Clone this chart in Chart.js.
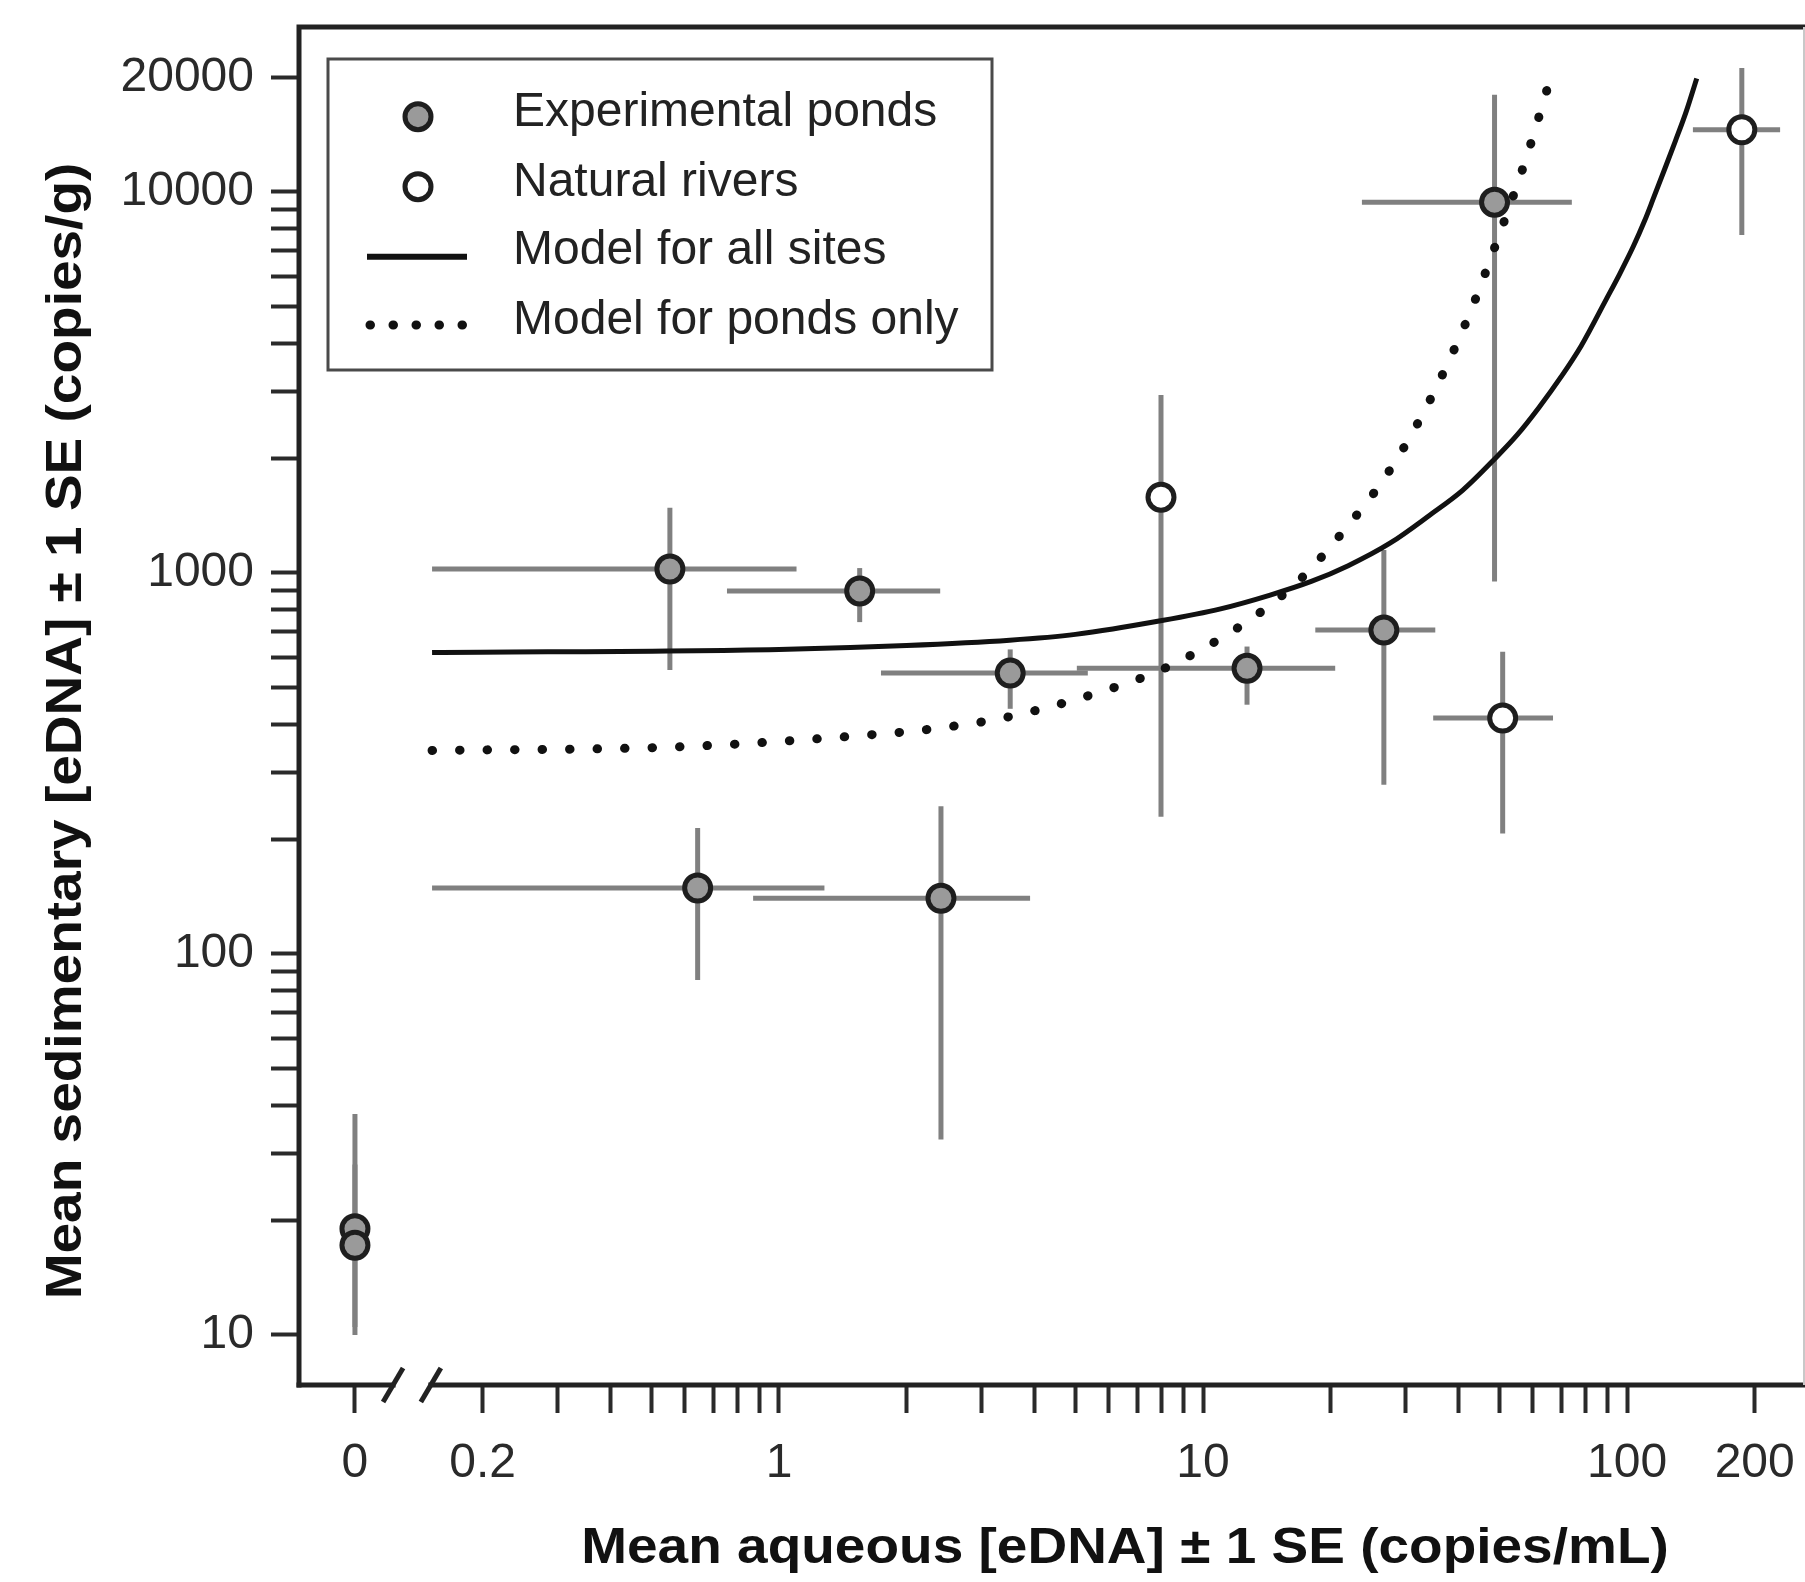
<!DOCTYPE html>
<html>
<head>
<meta charset="utf-8">
<script src="https://cdn.jsdelivr.net/npm/chart.js@4.4.0/dist/chart.umd.min.js"></script>
<style>
html,body{margin:0;padding:0;background:#fff;}
#wrap{width:1805px;height:1582px;position:relative;}
</style>
</head>
<body>
<div id="wrap"><canvas id="c" width="1805" height="1582"></canvas></div>
<script>
// ---------- data ----------
// "0" on the aqueous axis is drawn at the broken-axis position 0.1
const ZERO_POS = 0.1;

// Experimental ponds
const pondX     = [0,    0,    0.553, 1.55, 0.643, 2.41, 3.51, 12.7, 26.7, 48.7];
const pondY     = [19.0, 17.2, 1024,  897,  149,   140,  546,  562,  708,  9400];
const pondXLow  = [0,    0,    0.152, 0.754,0.152, 0.869,1.74, 5.04, 18.4, 23.7];
const pondXHigh = [0,    0,    1.10,  2.40, 1.28,  3.91, 5.35, 20.5, 35.3, 74.1];
const pondYLow  = [10,   10.5, 556,   743,  85.5,  32.6, 440,  451,  278,  950];
const pondYHigh = [38,   28,   1483,  1030, 214,   244,  630,  641,  1148, 17990];

// Natural rivers
const riverX     = [7.96, 50.9, 186.5];
const riverY     = [1581, 416,  14560];
const riverXLow  = [7.96, 34.9, 143];
const riverXHigh = [7.96, 66.9, 229.6];
const riverYLow  = [229,  207,  7710];
const riverYHigh = [2930, 621,  21140];

// Model for all sites
const allSitesX = [0.152, 1,   2,   3.5, 5,   8,   11,  14.4, 18,  22,   27.6, 34.3, 41,   48.9, 55,   62,   70,   78,   89.5, 96,   103.5, 110,  115.3, 122,   130,   138,   146];
const allSitesY = [618,   630, 645, 666, 690, 750, 805, 875,  950, 1045, 1197, 1420, 1650, 2000, 2300, 2720, 3280, 3950, 5250, 6080, 7200,  8400, 9600,  11300, 13600, 16300, 19860];

// Model for ponds only
const pondsOnlyX = [0.152, 0.59, 1.64, 2.27, 3.51, 6.26, 8.06, 10.8, 13.9, 17.2, 22.2, 26.6, 31.3, 35.9, 42.6, 49.8, 58.0,  65.8];
const pondsOnlyY = [342,   350,  376,  389,  420,  503,  560,  665,  800,  977,  1349, 1754, 2350, 3150, 4810, 7640, 12390, 19690];

// Axis ticks and labels
const xTickValues = [0.1, 0.2, 0.3, 0.4, 0.5, 0.6, 0.7, 0.8, 0.9, 1, 2, 3, 4, 5, 6, 7, 8, 9, 10, 20, 30, 40, 50, 60, 70, 80, 90, 100, 200];
const xLabelAt    = [0.1, 0.2, 1, 10, 100, 200];
const xLabels     = ['0', '0.2', '1', '10', '100', '200'];
const yTickValues = [10, 20, 30, 40, 50, 60, 70, 80, 90, 100, 200, 300, 400, 500, 600, 700, 800, 900,
                     1000, 2000, 3000, 4000, 5000, 6000, 7000, 8000, 9000, 10000, 20000];
const yLabelAt    = [10, 100, 1000, 10000, 20000];
const yLabels     = ['10', '100', '1000', '10000', '20000'];
const breakMarks  = [0.123, 0.151];

const seriesNames = ['Experimental ponds', 'Natural rivers', 'Model for all sites', 'Model for ponds only'];
const xTitle = 'Mean aqueous [eDNA] \u00B1 1 SE (copies/mL)';
const yTitle = 'Mean sedimentary [eDNA] \u00B1 1 SE (copies/g)';

// ---------- styling ----------
const FONT = '"Liberation Sans", Arial, Helvetica, sans-serif';
const INK = '#222';
const ERR = '#808080';

function mapX(x) { return x === 0 ? ZERO_POS : x; }
function labelFor(v, at, labels) {
  for (let i = 0; i < at.length; i++) {
    if (Math.abs(at[i] - v) < 1e-9 * Math.max(1, at[i])) return labels[i];
  }
  return '';
}

const errorSets = [
  {x: pondX,  y: pondY,  xl: pondXLow,  xh: pondXHigh,  yl: pondYLow,  yh: pondYHigh},
  {x: riverX, y: riverY, xl: riverXLow, xh: riverXHigh, yl: riverYLow, yh: riverYHigh}
];

const errorBarsPlugin = {
  id: 'errorBars',
  beforeDatasetsDraw(chart) {
    const ctx = chart.ctx, xs = chart.scales.x, ys = chart.scales.y;
    ctx.save();
    ctx.strokeStyle = ERR;
    ctx.lineWidth = 5;
    ctx.lineCap = 'butt';
    errorSets.forEach(s => {
      for (let i = 0; i < s.x.length; i++) {
        const px = xs.getPixelForValue(mapX(s.x[i]));
        const py = ys.getPixelForValue(s.y[i]);
        if (s.xl[i] !== s.xh[i]) {
          ctx.beginPath();
          ctx.moveTo(xs.getPixelForValue(mapX(s.xl[i])), py);
          ctx.lineTo(xs.getPixelForValue(mapX(s.xh[i])), py);
          ctx.stroke();
        }
        if (s.yl[i] !== s.yh[i]) {
          ctx.beginPath();
          ctx.moveTo(px, ys.getPixelForValue(s.yl[i]));
          ctx.lineTo(px, ys.getPixelForValue(s.yh[i]));
          ctx.stroke();
        }
      }
    });
    ctx.restore();
  }
};

const framePlugin = {
  id: 'frame',
  afterDraw(chart) {
    const ctx = chart.ctx, a = chart.chartArea, xs = chart.scales.x;
    ctx.save();
    ctx.lineCap = 'square';
    ctx.strokeStyle = INK;
    ctx.lineWidth = 5;
    // top + left
    ctx.beginPath();
    ctx.moveTo(a.right + 2, a.top);
    ctx.lineTo(a.left, a.top);
    ctx.lineTo(a.left, a.bottom);
    ctx.stroke();
    // bottom with break
    const b1 = xs.getPixelForValue(breakMarks[0]);
    const b2 = xs.getPixelForValue(breakMarks[1]);
    ctx.beginPath();
    ctx.moveTo(a.left, a.bottom);
    ctx.lineTo(b1, a.bottom);
    ctx.moveTo(b2, a.bottom);
    ctx.lineTo(a.right + 2, a.bottom);
    ctx.stroke();
    // slashes
    ctx.lineCap = 'butt';
    ctx.lineWidth = 5;
    [b1, b2].forEach(bx => {
      ctx.beginPath();
      ctx.moveTo(bx - 10, a.bottom + 17);
      ctx.lineTo(bx + 10, a.bottom - 17);
      ctx.stroke();
    });
    // right edge (cropped frame)
    ctx.strokeStyle = '#c8c8c8';
    ctx.lineWidth = 2;
    ctx.beginPath();
    ctx.moveTo(a.right + 1, a.top);
    ctx.lineTo(a.right + 1, a.bottom);
    ctx.stroke();

    // axis titles
    ctx.fillStyle = '#111';
    ctx.font = 'bold 50px ' + FONT;
    ctx.textAlign = 'center';
    ctx.textBaseline = 'alphabetic';
    ctx.save();
    ctx.translate(1125, 1563);
    ctx.scale(1.1, 1);
    ctx.fillText(xTitle, 0, 0);
    ctx.restore();
    ctx.save();
    ctx.translate(81, 731);
    ctx.rotate(-Math.PI / 2);
    ctx.scale(1.1, 1);
    ctx.fillText(yTitle, 0, 0);
    ctx.restore();

    // legend
    const L = {x: 328, y: 59, w: 664, h: 311};
    ctx.strokeStyle = '#4a4a4a';
    ctx.lineWidth = 3;
    ctx.strokeRect(L.x, L.y, L.w, L.h);
    const ds = chart.data.datasets;
    const rows = [112.5, 182.5, 251, 321];
    const symY = [116.7, 186.7, 256.7, 325];
    ctx.font = '48px ' + FONT;
    ctx.textAlign = 'left';
    ctx.textBaseline = 'middle';
    ds.forEach((d, i) => {
      ctx.fillStyle = INK;
      ctx.fillText(d.label, 513, rows[i]);
      if (!d.showLine) {
        ctx.beginPath();
        ctx.arc(418, symY[i], 13, 0, Math.PI * 2);
        ctx.fillStyle = d.pointBackgroundColor;
        ctx.fill();
        ctx.lineWidth = d.pointBorderWidth;
        ctx.strokeStyle = d.pointBorderColor;
        ctx.stroke();
      } else {
        ctx.beginPath();
        ctx.strokeStyle = d.borderColor;
        if (d.borderDash && d.borderDash.length) {
          ctx.lineWidth = 9;
          ctx.lineCap = 'round';
          ctx.setLineDash([0.5, 22.5]);
          ctx.moveTo(370, symY[i]);
          ctx.lineTo(463, symY[i]);
        } else {
          ctx.lineWidth = 6;
          ctx.lineCap = 'butt';
          ctx.setLineDash([]);
          ctx.moveTo(367, symY[i]);
          ctx.lineTo(467, symY[i]);
        }
        ctx.stroke();
        ctx.setLineDash([]);
      }
    });
    ctx.restore();
  }
};

const tickFont = {family: FONT, size: 48};

new Chart(document.getElementById('c'), {
  type: 'scatter',
  data: {
    datasets: [
      {
        label: seriesNames[0],
        data: pondX.map((x, i) => ({x: mapX(x), y: pondY[i]})),
        showLine: false,
        pointRadius: 13,
        pointBorderWidth: 5,
        pointBackgroundColor: '#9a9a9a',
        pointBorderColor: '#1e1e1e',
        order: 0
      },
      {
        label: seriesNames[1],
        data: riverX.map((x, i) => ({x: mapX(x), y: riverY[i]})),
        showLine: false,
        pointRadius: 13,
        pointBorderWidth: 5,
        pointBackgroundColor: '#ffffff',
        pointBorderColor: '#1e1e1e',
        order: 0
      },
      {
        label: seriesNames[2],
        data: allSitesX.map((x, i) => ({x: x, y: allSitesY[i]})),
        showLine: true,
        pointRadius: 0,
        borderColor: '#111',
        borderWidth: 5,
        cubicInterpolationMode: 'monotone',
        fill: false,
        order: 1
      },
      {
        label: seriesNames[3],
        data: pondsOnlyX.map((x, i) => ({x: x, y: pondsOnlyY[i]})),
        showLine: true,
        pointRadius: 0,
        borderColor: '#111',
        borderWidth: 9,
        borderDash: [0.5, 27],
        borderCapStyle: 'round',
        cubicInterpolationMode: 'monotone',
        fill: false,
        order: 1
      }
    ]
  },
  options: {
    responsive: false,
    animation: false,
    devicePixelRatio: 1,
    layout: {autoPadding: false, padding: {left: 0, right: 2, top: 27, bottom: 0}},
    plugins: {legend: {display: false}, tooltip: {enabled: false}, title: {display: false}},
    scales: {
      x: {
        type: 'logarithmic',
        position: 'bottom',
        min: 0.0738,
        max: 260,
        afterFit: s => { s.height = 1582 - 1385; s.paddingLeft = 0; s.paddingRight = 0; s.paddingTop = 0; s.paddingBottom = 0; },
        afterBuildTicks: s => { s.ticks = xTickValues.map(v => ({value: v})); },
        ticks: {
          autoSkip: false, maxRotation: 0, minRotation: 0, padding: 22,
          color: '#2a2a2a', font: tickFont,
          callback: v => labelFor(v, xLabelAt, xLabels)
        },
        grid: {drawOnChartArea: false, drawTicks: true, tickLength: 28, tickWidth: 4, tickColor: '#2a2a2a'},
        border: {display: false}
      },
      y: {
        type: 'logarithmic',
        position: 'left',
        min: 7.39,
        max: 27100,
        afterFit: s => { s.width = 299; s.paddingLeft = 0; s.paddingRight = 0; s.paddingTop = 0; s.paddingBottom = 0; },
        afterBuildTicks: s => { s.ticks = yTickValues.map(v => ({value: v})); },
        ticks: {
          autoSkip: false, padding: 17,
          color: '#2a2a2a', font: tickFont,
          callback: v => labelFor(v, yLabelAt, yLabels)
        },
        grid: {drawOnChartArea: false, drawTicks: true, tickLength: 28, tickWidth: 4, tickColor: '#2a2a2a'},
        border: {display: false}
      }
    }
  },
  plugins: [errorBarsPlugin, framePlugin]
});
</script>
</body>
</html>
